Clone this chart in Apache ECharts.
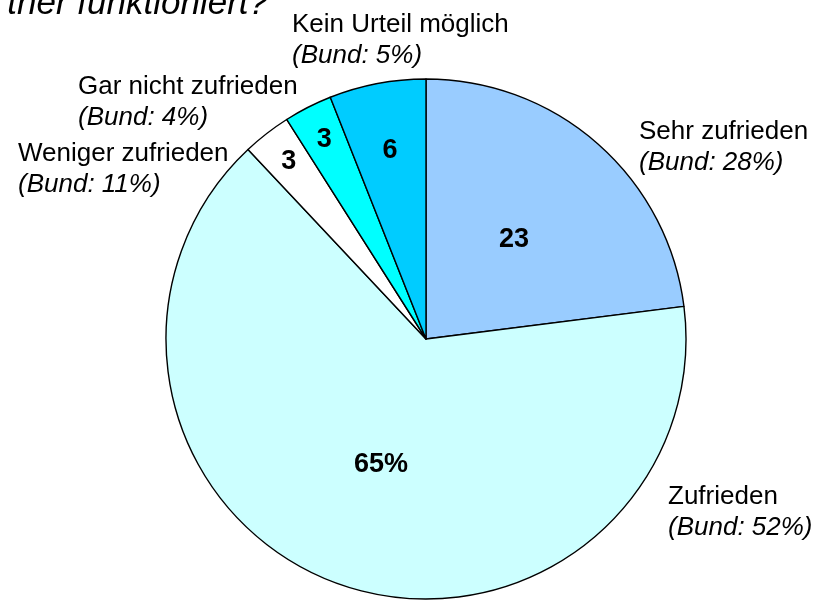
<!DOCTYPE html>
<html>
<head>
<meta charset="utf-8">
<script src="https://cdn.jsdelivr.net/npm/echarts@6/dist/echarts.min.js"></script>
<style>
  html, body { margin: 0; padding: 0; background: #fff; }
  #chart { width: 821px; height: 600px; }
</style>
</head>
<body>
<div id="chart"></div>
<script>
// data
const categories = ['Sehr zufrieden', 'Zufrieden', 'Weniger zufrieden', 'Gar nicht zufrieden', 'Kein Urteil möglich']
const values = [23, 65, 3, 3, 6]
const bundValues = [28, 52, 11, 4, 5]
const titleText = 'ther funktioniert?'

// styling / layout
const colors = ['#99CCFF', '#CCFFFF', '#FFFFFF', '#00FFFF', '#00CCFF']
const FONT = '"Liberation Sans", Arial, sans-serif'
const center = [426, 339]
const R = 260
// outer label anchors (left, top)
const labelPos = [[639, 116], [668, 481], [18, 138], [78, 71], [292, 9]]
// which ring each inner value label sits in: 0 = middle, 1 = outer ring, 2 = mid-outer ring
const labelRing = [0, 0, 1, 1, 2]

let chart = echarts.init(document.getElementById('chart'))

function valueText(p) {
  return p.dataIndex === 1 ? p.value + '%' : String(p.value)
}

function ringData(ring) {
  return categories.map((name, i) => ({
    name,
    value: values[i],
    label: { show: labelRing[i] === ring }
  }))
}

const overlayBase = {
  type: 'pie',
  center,
  startAngle: 90,
  clockwise: true,
  silent: true,
  itemStyle: { color: 'transparent', borderWidth: 0 },
  emphasis: { disabled: true },
  labelLine: { show: false }
}

const innerLabel = {
  position: 'inside',
  formatter: valueText,
  color: '#000',
  fontFamily: FONT,
  fontWeight: 'bold',
  fontSize: 27
}

const options = {
  animation: false,
  graphic: [{
    type: 'text',
    style: {
      text: titleText,
      x: 268,
      y: 4,
      align: 'right',
      verticalAlign: 'middle',
      font: 'italic 35px ' + FONT,
      fill: '#000'
    }
  }],
  series: [
    {
      type: 'pie',
      center,
      radius: R,
      startAngle: 90,
      clockwise: true,
      silent: true,
      emphasis: { disabled: true },
      itemStyle: {
        color: p => colors[p.dataIndex],
        borderColor: '#000',
        borderWidth: 1.4
      },
      label: innerLabel,
      labelLine: { show: false },
      data: ringData(0)
    },
    Object.assign({}, overlayBase, {
      radius: [182, R],
      label: innerLabel,
      data: ringData(1)
    }),
    Object.assign({}, overlayBase, {
      radius: [118, R],
      label: innerLabel,
      data: ringData(2)
    }),
    Object.assign({}, overlayBase, {
      radius: R,
      label: {
        show: true,
        position: 'outside',
        overflow: 'none',
        edgeDistance: 0,
        formatter: p => '{n|' + p.name + '}\n{b|(Bund: ' + bundValues[p.dataIndex] + '%)}',
        rich: {
          n: { fontFamily: FONT, fontSize: 26, color: '#000', lineHeight: 31 },
          b: { fontFamily: FONT, fontSize: 26, fontStyle: 'italic', color: '#000', lineHeight: 31 }
        }
      },
      labelLayout: p => ({
        x: labelPos[p.dataIndex][0],
        y: labelPos[p.dataIndex][1],
        align: 'left',
        verticalAlign: 'top'
      }),
      data: categories.map((name, i) => ({ name, value: values[i] }))
    })
  ]
}

chart.setOption(options)
</script>
</body>
</html>
